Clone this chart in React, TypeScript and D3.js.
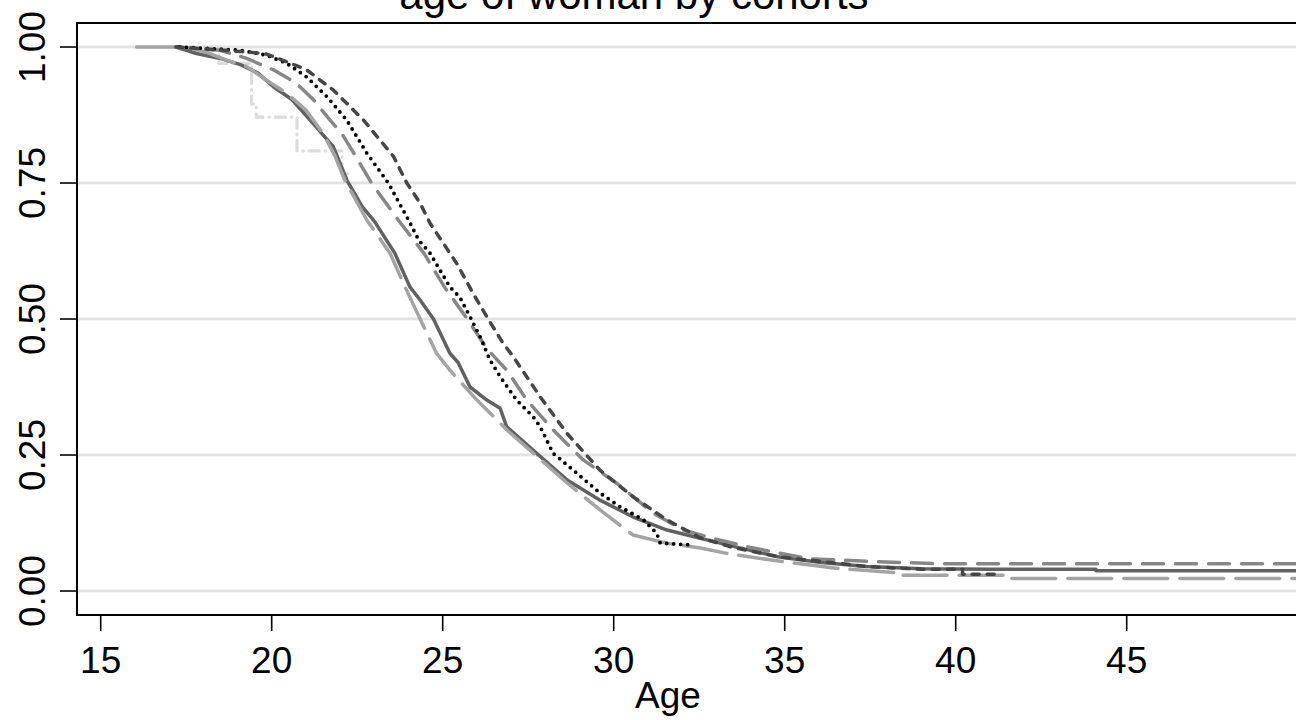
import React from "react";
import * as d3 from "d3";

// ---- data ----
const xTicks = [15, 20, 25, 30, 35, 40, 45];
const yTicks = [0, 0.25, 0.5, 0.75, 1];
const titleText = "age of woman by cohorts";
const xTitle = "Age";

// cohort 1: dark solid
const ages1 = [17.2, 17.8, 18.5, 19.1, 19.6, 20.05, 20.6, 21.2, 21.8, 22.2, 22.65, 23.0, 23.6, 24.04, 24.34, 24.73, 25.21, 25.45, 25.8, 26.29, 26.68, 26.87, 27.64, 28.64, 29.6, 30.57, 31.56, 32.53, 33.5, 34.8, 36.0, 37.4, 39.0, 41.0, 44.1, 44.1, 50];
const surv1 = [1.0, 0.988, 0.979, 0.967, 0.952, 0.927, 0.903, 0.86, 0.817, 0.755, 0.706, 0.68, 0.621, 0.559, 0.535, 0.5, 0.437, 0.42, 0.375, 0.351, 0.336, 0.302, 0.259, 0.204, 0.167, 0.136, 0.112, 0.097, 0.082, 0.063, 0.053, 0.045, 0.041, 0.04, 0.04, 0.037, 0.037];

// cohort 2: light gray long dash
const ages2 = [16.05, 17.5, 18.1, 18.68, 19.27, 19.85, 20.44, 21.0, 21.5, 21.85, 22.14, 22.78, 23.46, 23.9, 24.34, 24.82, 25.21, 26.0, 26.88, 27.64, 28.63, 29.6, 30.56, 31.55, 32.53, 33.4, 34.5, 35.2, 36.5, 38.2, 38.2, 39.8, 41.4, 41.4, 50];
const surv2 = [1.0, 1.0, 0.99, 0.976, 0.964, 0.939, 0.915, 0.884, 0.841, 0.8, 0.755, 0.682, 0.621, 0.559, 0.5, 0.437, 0.406, 0.351, 0.296, 0.254, 0.199, 0.149, 0.103, 0.088, 0.079, 0.068, 0.058, 0.052, 0.042, 0.034, 0.029, 0.029, 0.029, 0.023, 0.023];

// cohort 3: medium gray dash
const ages3 = [17.2, 18.49, 19.27, 20.05, 20.73, 21.22, 21.7, 22.05, 22.4, 22.92, 23.7, 24.45, 25.05, 25.72, 26.3, 26.87, 27.46, 28.23, 29.11, 30.09, 31.16, 32.04, 33.0, 34.0, 35.74, 37.7, 39.5, 50];
const surv3 = [1.0, 0.994, 0.979, 0.958, 0.933, 0.903, 0.866, 0.841, 0.805, 0.75, 0.682, 0.621, 0.559, 0.5, 0.445, 0.406, 0.351, 0.296, 0.241, 0.198, 0.143, 0.112, 0.095, 0.08, 0.059, 0.054, 0.05, 0.05];

// cohort 4: black dotted
const ages4 = [17.3, 19.07, 19.85, 20.44, 21.02, 21.61, 22.19, 22.78, 23.41, 24.0, 24.3, 24.63, 25.21, 25.5, 25.8, 26.09, 26.38, 26.68, 27.16, 27.65, 27.85, 28.23, 28.82, 29.6, 30.18, 30.87, 31.26, 31.36, 32.2];
const surv4 = [1.0, 0.994, 0.985, 0.97, 0.945, 0.909, 0.866, 0.805, 0.75, 0.682, 0.645, 0.621, 0.559, 0.54, 0.504, 0.468, 0.425, 0.394, 0.351, 0.32, 0.302, 0.253, 0.222, 0.18, 0.155, 0.131, 0.106, 0.088, 0.085];

// cohort 5: dark gray short dash
const ages5 = [17.2, 19.27, 19.85, 20.44, 21.02, 21.8, 22.68, 23.56, 23.95, 24.34, 24.63, 25.02, 25.41, 25.89, 26.29, 26.77, 27.06, 27.85, 28.63, 29.6, 30.57, 31.55, 32.52, 33.5, 34.8, 37.4, 39.0, 40.2, 40.2, 41.35];
const surv5 = [1.0, 0.991, 0.987, 0.973, 0.958, 0.921, 0.866, 0.799, 0.75, 0.713, 0.676, 0.639, 0.602, 0.547, 0.504, 0.455, 0.431, 0.357, 0.29, 0.222, 0.173, 0.131, 0.098, 0.08, 0.063, 0.045, 0.04, 0.04, 0.031, 0.031];

// cohort 6: very light gray dash-dot
const ages6 = [16.9, 18.45, 18.45, 19.41, 19.41, 19.55, 19.55, 20.74, 20.74, 22.05, 22.05, 22.3];
const surv6 = [1.0, 1.0, 0.97, 0.97, 0.895, 0.895, 0.871, 0.871, 0.809, 0.809, 0.767, 0.767];

const series = [
  { ages: ages6, surv: surv6, color: "#dcdcdc", width: 3.2, dash: "10,6,0.5,6" },
  { ages: ages1, surv: surv1, color: "#616161", width: 3.5, dash: "none" },
  { ages: ages2, surv: surv2, color: "#a4a4a4", width: 3.5, dash: "44,12" },
  { ages: ages3, surv: surv3, color: "#878787", width: 3.5, dash: "21,12" },
  { ages: ages4, surv: surv4, color: "#000000", width: 3.8, dash: "0,7" },
  { ages: ages5, surv: surv5, color: "#464646", width: 3.5, dash: "7,8" },
];

const W = 1296;
const H = 720;
const FONT = "'Liberation Sans', Arial, Helvetica, sans-serif";

export default function App() {
  const x = d3.scaleLinear().domain([15, 45]).range([100.7, 1126.7]);
  const y = d3.scaleLinear().domain([0, 1]).range([591, 47]);
  const plotLeft = 77;
  const plotTop = 23;
  const plotBottom = 615;

  const line = d3
    .line<[number, number]>()
    .x((d) => x(d[0]))
    .y((d) => y(d[1]))
    .curve(d3.curveLinear);

  return (
    <svg
      width={W}
      height={H}
      style={{ position: "absolute", left: 0, top: 0, display: "block", background: "#fff" }}
      fontFamily={FONT}
    >
      <rect x={0} y={0} width={W} height={H} fill="#fff" />
      <defs>
        <clipPath id="plotclip">
          <rect x={plotLeft} y={plotTop} width={W} height={plotBottom - plotTop} />
        </clipPath>
      </defs>
      {/* gridlines */}
      {yTicks.map((t) => (
        <line key={"g" + t} x1={plotLeft + 1} x2={W} y1={y(t)} y2={y(t)} stroke="#e3e3e3" strokeWidth={3} />
      ))}
      {/* curves */}
      <g clipPath="url(#plotclip)">
        {series.map((s, i) => (
          <path
            key={i}
            d={line(s.ages.map((a, j) => [a, s.surv[j]] as [number, number])) || ""}
            fill="none"
            stroke={s.color}
            strokeWidth={s.width}
            strokeDasharray={s.dash}
            strokeLinecap="round"
            strokeLinejoin="round"
          />
        ))}
      </g>
      {/* frame */}
      <path
        d={`M${W + 5},${plotTop}H${plotLeft}V${plotBottom}H${W + 5}`}
        fill="none"
        stroke="#000"
        strokeWidth={2}
      />
      {/* y axis ticks */}
      {yTicks.map((t) => (
        <g key={"y" + t}>
          <line x1={60} x2={plotLeft} y1={y(t)} y2={y(t)} stroke="#000" strokeWidth={1.6} />
          <text
            transform={`translate(45,${y(t)}) rotate(-90)`}
            textAnchor="middle"
            fontSize={37}
            fill="#000"
          >
            {d3.format(".2f")(t)}
          </text>
        </g>
      ))}
      {/* x axis ticks */}
      {xTicks.map((t) => (
        <g key={"x" + t}>
          <line x1={x(t)} x2={x(t)} y1={plotBottom} y2={631} stroke="#000" strokeWidth={1.6} />
          <text x={x(t)} y={673} textAnchor="middle" fontSize={37} fill="#000">
            {t}
          </text>
        </g>
      ))}
      <text x={668} y={708} textAnchor="middle" fontSize={37} fill="#000">
        {xTitle}
      </text>
      <text x={634} y={9} textAnchor="middle" fontSize={42} fill="#000">
        {titleText}
      </text>
    </svg>
  );
}
